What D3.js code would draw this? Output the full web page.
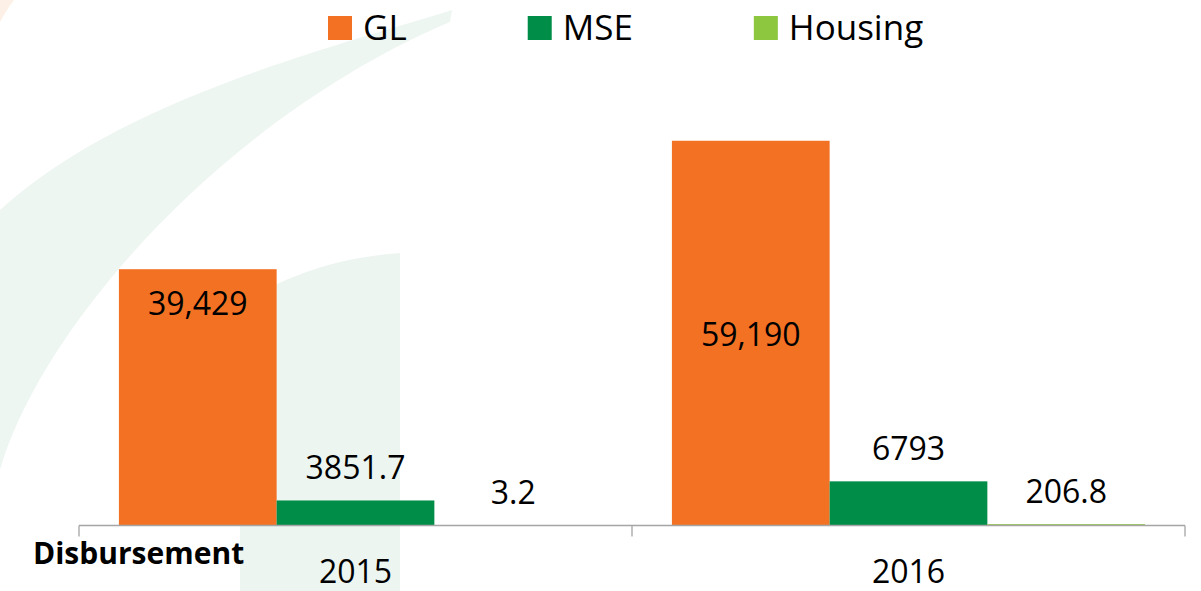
<!DOCTYPE html>
<html>
<head>
<meta charset="utf-8">
<script src="https://cdn.jsdelivr.net/npm/d3@7"></script>
<style>
  html, body { margin: 0; padding: 0; background: #fff; }
  svg { display: block; font-family: "Open Sans", "Noto Sans", sans-serif; }
</style>
</head>
<body>
<svg id="chart" width="1201" height="591"></svg>
<script>
// data
var years = ['2015', '2016'];
var seriesNames = ['GL', 'MSE', 'Housing'];
var glValues = [39429, 59190];
var mseValues = [3851.7, 6793];
var housingValues = [3.2, 206.8];
var seriesColors = ['#F37123', '#008D48', '#8DC63F'];
var axisTitle = 'Disbursement';

var width = 1201, height = 591;
var axisY = 525.5;
var svg = d3.select('#chart');

// faint swoosh watermark in the background
var bg = svg.append('g').attr('class', 'watermark');
bg.append('path')
  .attr('d', 'M452,10 C330,48 120,100 0,210 L0,470 C40,330 220,120 450,22 Z')
  .attr('fill', '#EEF6F1');
bg.append('path')
  .attr('d', 'M240,305 C290,272 345,257 400,253 L400,591 L240,591 Z')
  .attr('fill', '#EDF5F0');
bg.append('path')
  .attr('d', 'M0,0 L14,0 C8,8 3,16 0,22 Z')
  .attr('fill', '#FDF0E6');

var values = [glValues, mseValues, housingValues];
var rows = [];
years.forEach(function(year, i) {
  seriesNames.forEach(function(name, s) {
    rows.push({ year: year, series: name, index: i, s: s, value: values[s][i] });
  });
});

var x0 = d3.scaleBand().domain(years).range([79, 1185]).padding(0);
var x1 = d3.scaleBand().domain(seriesNames).range([0, x0.bandwidth()])
  .paddingInner(0).paddingOuter(0.253);
var y = d3.scaleLinear().domain([0, 70000]).range([axisY, 70.5]);
var color = d3.scaleOrdinal().domain(seriesNames).range(seriesColors);

// bars
svg.append('g').selectAll('rect').data(rows).enter().append('rect')
  .attr('x', function(d) { return x0(d.year) + x1(d.series); })
  .attr('width', x1.bandwidth())
  .attr('y', function(d) { return y(d.value); })
  .attr('height', function(d) { return axisY - y(d.value); })
  .attr('fill', function(d) { return color(d.series); });

// axis line and boundary ticks
var axis = svg.append('g').attr('stroke', '#A5A5A5').attr('stroke-width', 1.3);
axis.append('line')
  .attr('x1', x0.range()[0]).attr('x2', x0.range()[1])
  .attr('y1', axisY).attr('y2', axisY);
var tickXs = years.map(function(yr) { return x0(yr); }).concat([x0.range()[1]]);
axis.selectAll('line.tick').data(tickXs).enter().append('line')
  .attr('class', 'tick')
  .attr('x1', function(d) { return d; }).attr('x2', function(d) { return d; })
  .attr('y1', axisY).attr('y2', axisY + 11);

// category labels
svg.append('g').selectAll('text').data(years).enter().append('text')
  .attr('x', function(d) { return x0(d) + x0.bandwidth() / 2; })
  .attr('y', 583)
  .attr('text-anchor', 'middle')
  .attr('font-size', 32)
  .attr('fill', '#000')
  .text(function(d) { return d; });

svg.append('text')
  .attr('x', 33).attr('y', 564)
  .attr('font-size', 30).attr('font-weight', 'bold')
  .attr('fill', '#000')
  .text(axisTitle);

// value labels
var glPlacement = ['top', 'middle'];
var fmtGL = d3.format(',');
svg.append('g').selectAll('text').data(rows).enter().append('text')
  .attr('x', function(d) { return x0(d.year) + x1(d.series) + x1.bandwidth() / 2; })
  .attr('y', function(d) {
    var top = y(d.value);
    if (d.s === 0) {
      return glPlacement[d.index] === 'top' ? top + 46 : (top + axisY) / 2 + 13;
    }
    return top - 21.5;
  })
  .attr('text-anchor', 'middle')
  .attr('font-size', 32)
  .attr('fill', '#000')
  .text(function(d) { return d.s === 0 ? fmtGL(d.value) : String(d.value); });

// legend
var legend = svg.append('g');
var lx = 328;
seriesNames.forEach(function(name) {
  legend.append('rect')
    .attr('x', lx).attr('y', 16).attr('width', 24).attr('height', 24)
    .attr('fill', color(name));
  var t = legend.append('text')
    .attr('x', lx + 35).attr('y', 39.5)
    .attr('font-size', 35)
    .attr('fill', '#000')
    .text(name);
  lx += 35 + t.node().getComputedTextLength() + 121;
});
</script>
</body>
</html>
